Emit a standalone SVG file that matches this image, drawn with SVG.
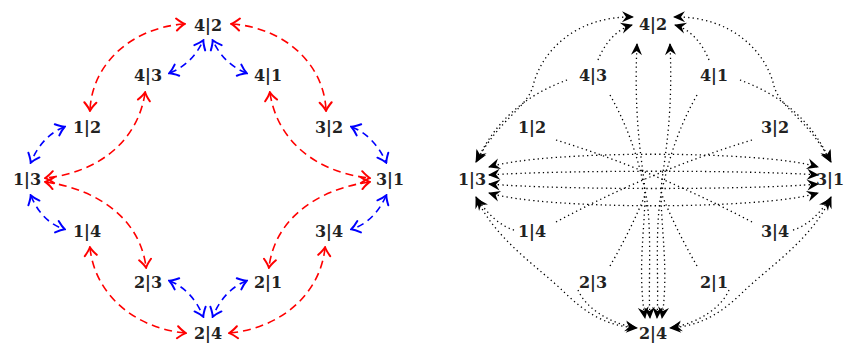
<svg xmlns="http://www.w3.org/2000/svg" width="846" height="345" viewBox="0 0 846 345">
<style>
.lbl{font-family:"DejaVu Serif","Liberation Serif",serif;font-weight:bold;font-size:16px;fill:#222;text-anchor:middle}
.red{fill:none;stroke:#f00;stroke-width:1.6;stroke-dasharray:8 5;marker-start:url(#mr);marker-end:url(#mr)}
.blue{fill:none;stroke:#00f;stroke-width:1.6;stroke-dasharray:7 5;marker-start:url(#mb);marker-end:url(#mb)}
.dot{fill:none;stroke:#000;stroke-width:1.3;stroke-dasharray:1.3 3.2}
.e1{marker-end:url(#mk)}
.e2{marker-start:url(#mk);marker-end:url(#mk)}
</style>
<defs>
<marker id="mr" viewBox="-10 -8 12 16" refX="0" refY="0" markerWidth="12" markerHeight="16" markerUnits="userSpaceOnUse" orient="auto-start-reverse">
<path d="M-7.5,-6 Q-2.5,-1.5 0.8,0 Q-2.5,1.5 -7.5,6" fill="none" stroke="#f00" stroke-width="2" stroke-linecap="round"/>
</marker>
<marker id="mb" viewBox="-10 -8 12 16" refX="0" refY="0" markerWidth="12" markerHeight="16" markerUnits="userSpaceOnUse" orient="auto-start-reverse">
<path d="M-7.5,-6 Q-2.5,-1.5 0.8,0 Q-2.5,1.5 -7.5,6" fill="none" stroke="#00f" stroke-width="2" stroke-linecap="round"/>
</marker>
<marker id="mk" viewBox="-13 -7 15 14" refX="0" refY="0" markerWidth="15" markerHeight="14" markerUnits="userSpaceOnUse" orient="auto-start-reverse">
<path d="M1,0 L-11,-5.5 L-7,0 L-11,5.5 Z" fill="#000"/>
</marker>
</defs>

<g id="edges-left">
<path class="red" d="M184,24 C130,28 92,65 90,110"/>
<path class="red" d="M145,93 C138,140 100,172 46,178"/>
<path class="red" d="M232,24 C286,28 324,65 326,110"/>
<path class="red" d="M270,93 C277,140 315,172 369,178"/>
<path class="red" d="M46,182 C100,190 140,220 146,267"/>
<path class="red" d="M90,248 C95,295 135,328 185,333"/>
<path class="red" d="M369,182 C315,190 275,220 269,267"/>
<path class="red" d="M325,248 C320,295 280,328 230,333"/>
<path class="blue" d="M170,73 Q192,64 203,41"/>
<path class="blue" d="M246,73 Q224,64 213,41"/>
<path class="blue" d="M64,127 Q42,136 31,162"/>
<path class="blue" d="M352,127 Q374,136 386,162"/>
<path class="blue" d="M31,196 Q42,222 64,229"/>
<path class="blue" d="M386,196 Q374,222 352,229"/>
<path class="blue" d="M170,281 Q192,290 203,316"/>
<path class="blue" d="M246,281 Q224,290 213,316"/>
</g>

<g id="edges-right">
<path class="dot e2" d="M476,162 C500,118 527,108 533,86 C541,52 575,16 633,17"/>
<path class="dot e2" d="M831,162 C807,118 780,108 774,86 C766,52 732,16 674,17"/>
<path class="dot e1" d="M598,60 C604,45 615,30 632,25"/>
<path class="dot e1" d="M709,60 C703,45 692,30 675,25"/>
<path class="dot e1" d="M567,80 C540,90 500,110 477,161"/>
<path class="dot e1" d="M740,80 C767,90 807,110 830,161"/>
<path class="dot e2" d="M476,197 C495,240 540,268 565,293 C585,312 605,326 637,328"/>
<path class="dot e2" d="M831,197 C812,240 767,268 742,293 C722,312 702,326 670,328"/>
<path class="dot e1" d="M514,230 C500,226 488,214 477,199"/>
<path class="dot e1" d="M793,230 C807,226 819,214 830,199"/>
<path class="dot e1" d="M578,290 C585,306 605,322 636,328"/>
<path class="dot e1" d="M729,290 C722,306 702,322 671,328"/>
<path class="dot e2" d="M489,167 C545,150 762,150 818,167"/>
<path class="dot e2" d="M489,193 C545,210 762,210 818,193"/>
<path class="dot e2" d="M489,175 C560,170 750,170 818,175"/>
<path class="dot e2" d="M489,184 C560,190 750,190 818,184"/>
<path class="dot e2" d="M637,44 C634,110 640,150 644,180 C648,215 636,262 645,318"/>
<path class="dot e2" d="M670,44 C673,110 666,150 662,180 C658,215 670,262 662,318"/>
<path class="dot e1" d="M610,95 C630,130 640,165 647,200 C652,240 648,285 650,318"/>
<path class="dot e1" d="M697,95 C677,130 667,165 660,200 C655,240 659,285 657,318"/>
<path class="dot" d="M556,140 Q653,170 752,222"/>
<path class="dot" d="M752,140 Q653,170 556,222"/>
<path class="dot" d="M610,266 C625,240 637,215 645,195"/>
<path class="dot" d="M697,266 C682,240 670,215 662,195"/>
</g>

<g id="L-42"><text class="lbl" x="208" y="31">4|2</text></g>
<g id="L-43"><text class="lbl" x="148" y="81">4|3</text></g>
<g id="L-41"><text class="lbl" x="268" y="81">4|1</text></g>
<g id="L-12"><text class="lbl" x="87" y="133">1|2</text></g>
<g id="L-32"><text class="lbl" x="329" y="133">3|2</text></g>
<g id="L-13"><text class="lbl" x="27" y="185">1|3</text></g>
<g id="L-31"><text class="lbl" x="390" y="185">3|1</text></g>
<g id="L-14"><text class="lbl" x="87" y="237">1|4</text></g>
<g id="L-34"><text class="lbl" x="329" y="237">3|4</text></g>
<g id="L-23"><text class="lbl" x="148" y="288">2|3</text></g>
<g id="L-21"><text class="lbl" x="268" y="288">2|1</text></g>
<g id="L-24"><text class="lbl" x="208" y="339">2|4</text></g>

<g id="R-42"><text class="lbl" x="653" y="30">4|2</text></g>
<g id="R-43"><text class="lbl" x="593" y="81">4|3</text></g>
<g id="R-41"><text class="lbl" x="714" y="81">4|1</text></g>
<g id="R-12"><text class="lbl" x="532" y="133">1|2</text></g>
<g id="R-32"><text class="lbl" x="775" y="133">3|2</text></g>
<g id="R-13"><text class="lbl" x="472" y="185">1|3</text></g>
<g id="R-31"><text class="lbl" x="830" y="185">3|1</text></g>
<g id="R-14"><text class="lbl" x="532" y="237">1|4</text></g>
<g id="R-34"><text class="lbl" x="775" y="237">3|4</text></g>
<g id="R-23"><text class="lbl" x="593" y="288">2|3</text></g>
<g id="R-21"><text class="lbl" x="714" y="288">2|1</text></g>
<g id="R-24"><text class="lbl" x="653" y="339">2|4</text></g>
</svg>
